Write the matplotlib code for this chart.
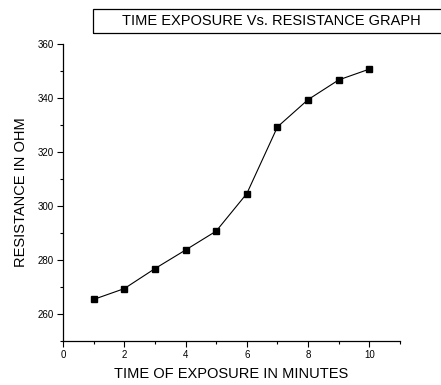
import numpy as np
import matplotlib
matplotlib.use("Agg")
import matplotlib.pyplot as plt
from matplotlib.patches import Rectangle
from matplotlib.ticker import MultipleLocator

plt.rcParams['font.family'] = ['Liberation Sans', 'DejaVu Sans']

# time of exposure (minutes) and resistance (ohm)
time_min = [1, 2, 3, 4, 5, 6, 7, 8, 9, 10]
resistance = [265.4, 269.4, 276.8, 283.7, 290.7, 304.6, 329.3, 339.4, 346.7, 350.7]

W, H = 441, 385
fig = plt.figure(figsize=(W / 100, H / 100), dpi=100)
ax = fig.add_axes([63 / W, 1 - 341 / H, (400 - 63) / W, (341 - 44) / H])

ax.plot(time_min, resistance, color='black', lw=0.8, marker='s', ms=4.8,
        markerfacecolor='black', markeredgecolor='black')

ax.set_xlim(0, 11)
ax.set_ylim(250, 360)
ax.xaxis.set_major_locator(MultipleLocator(2))
ax.xaxis.set_minor_locator(MultipleLocator(1))
ax.yaxis.set_major_locator(MultipleLocator(20))
ax.yaxis.set_minor_locator(MultipleLocator(10))
ax.set_yticks([260, 280, 300, 320, 340, 360])

for s in ['top', 'right']:
    ax.spines[s].set_visible(False)
for s in ['left', 'bottom']:
    ax.spines[s].set_linewidth(0.9)

ax.tick_params(which='major', direction='out', length=4.5, width=0.8,
               labelsize=7, pad=2, colors='black')
ax.tick_params(which='minor', direction='out', length=2.5, width=0.8)

ax.set_xlabel('TIME OF EXPOSURE IN MINUTES', fontsize=10.5, labelpad=5)
ax.set_ylabel('RESISTANCE IN OHM', fontsize=10.5, labelpad=7)

# title box, runs off the right edge like the original
fig.patches.append(Rectangle((93 / W, 1 - 33 / H), 420 / W, 24 / H,
                             transform=fig.transFigure, fill=False,
                             edgecolor='black', lw=0.9))
fig.text(271 / W, 1 - 21 / H, 'TIME EXPOSURE Vs. RESISTANCE GRAPH',
         ha='center', va='center', fontsize=10.5)

fig.savefig('out.png', dpi=100)
